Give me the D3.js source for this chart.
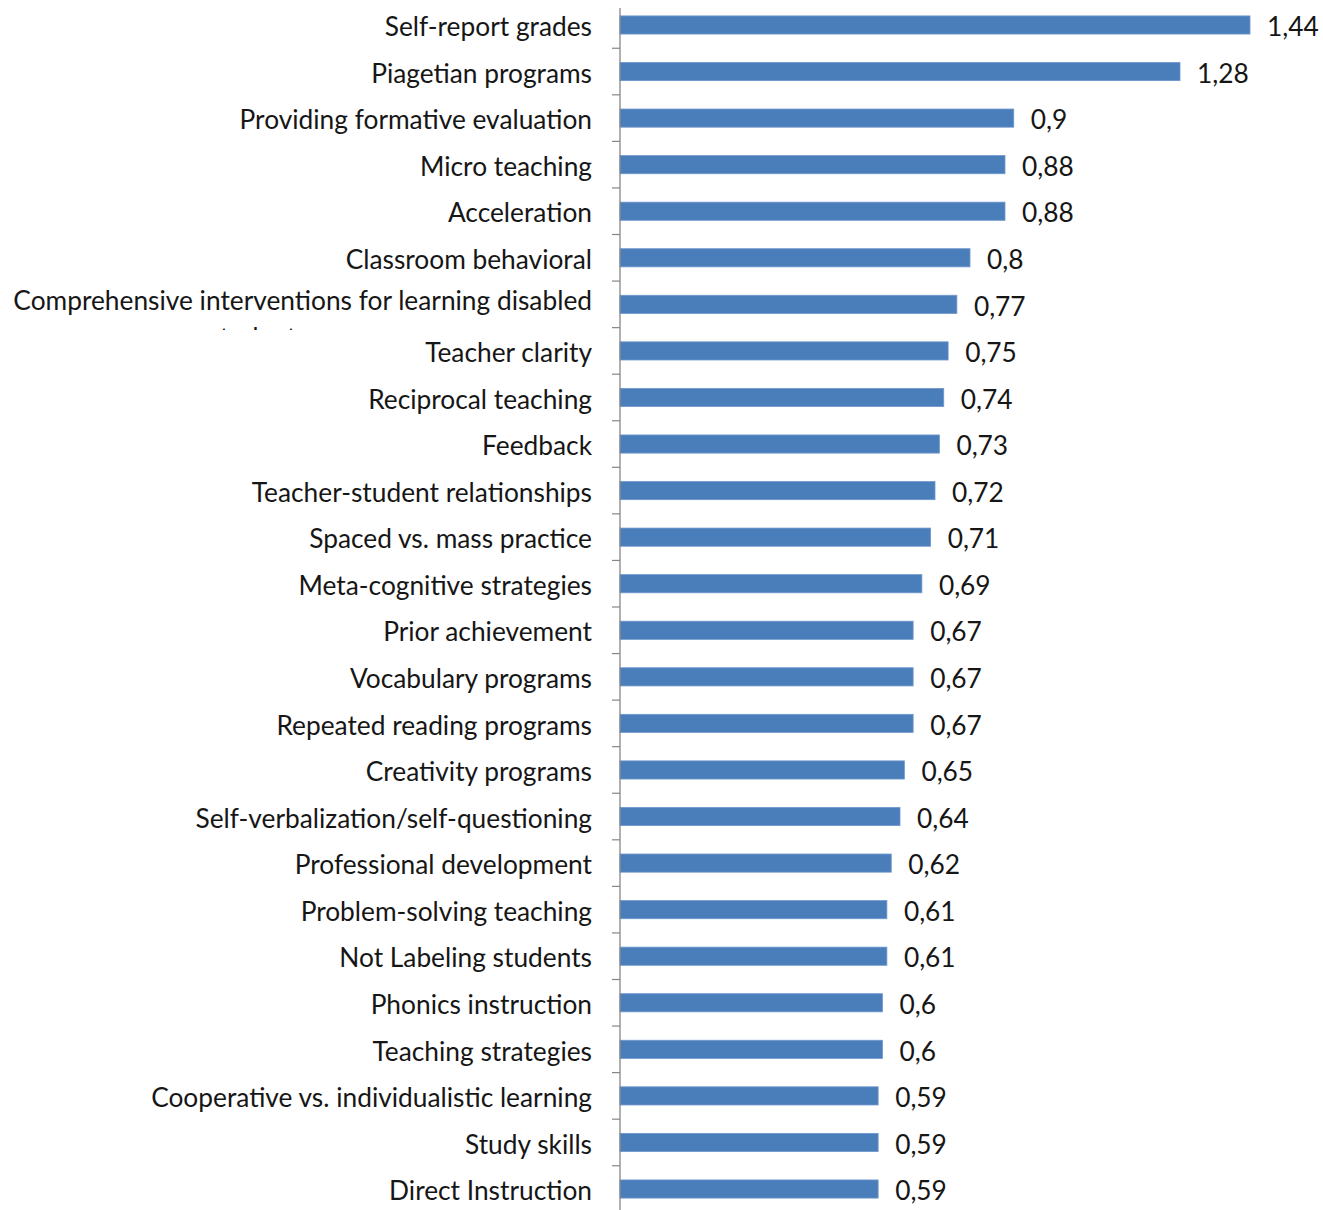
<!DOCTYPE html>
<html>
<head>
<meta charset="utf-8">
<script src="https://cdnjs.cloudflare.com/ajax/libs/d3/7.8.5/d3.min.js"></script>
<style>
  body { margin: 0; background: #fff; }
  text { font-family: Lato, "Open Sans", sans-serif; fill: #161616; }
</style>
</head>
<body>
<script>
// data
var categories = [
  "Self-report grades", "Piagetian programs", "Providing formative evaluation",
  "Micro teaching", "Acceleration", "Classroom behavioral",
  "Comprehensive interventions for learning disabled",
  "Teacher clarity", "Reciprocal teaching", "Feedback",
  "Teacher-student relationships", "Spaced vs. mass practice",
  "Meta-cognitive strategies", "Prior achievement", "Vocabulary programs",
  "Repeated reading programs", "Creativity programs",
  "Self-verbalization/self-questioning", "Professional development",
  "Problem-solving teaching", "Not Labeling students", "Phonics instruction",
  "Teaching strategies", "Cooperative vs. individualistic learning",
  "Study skills", "Direct Instruction"
];
var effectSizes = [1.44, 1.28, 0.9, 0.88, 0.88, 0.8, 0.77, 0.75, 0.74, 0.73, 0.72,
  0.71, 0.69, 0.67, 0.67, 0.67, 0.65, 0.64, 0.62, 0.61, 0.61, 0.6, 0.6, 0.59, 0.59, 0.59];
var wrappedLine = "students"; // second line of the long label, mostly cut off

var svgWidth = 1323, svgHeight = 1210;
var axisX = 620;
var fontSize = "26.3px";

var svg = d3.select("body").append("svg")
  .attr("width", svgWidth)
  .attr("height", svgHeight);

var x = d3.scaleLinear().domain([0, 1.44]).range([axisX, 1250]);
var y = d3.scaleBand().domain(categories).range([1.7, 1212.3]).paddingInner(0.61).paddingOuter(0.305);

var fmt = function(v) { return String(v).replace(".", ","); };

// bars
svg.selectAll("rect.bar")
  .data(effectSizes)
  .enter().append("rect")
  .attr("class", "bar")
  .attr("x", x(0))
  .attr("y", (d, i) => y(categories[i]))
  .attr("width", d => x(d) - x(0))
  .attr("height", y.bandwidth())
  .attr("fill", "#4a7ebb")
  .attr("stroke", "#6f97cc")
  .attr("stroke-width", 0.8);

// value labels
svg.selectAll("text.val")
  .data(effectSizes)
  .enter().append("text")
  .attr("class", "val")
  .attr("x", d => x(d) + 17)
  .attr("y", (d, i) => y(categories[i]) + y.bandwidth() / 2 + 2)
  .attr("dy", "0.35em")
  .style("font-size", fontSize)
  .text(fmt);

// axis line + ticks between categories
var axis = svg.append("g");
axis.append("line")
  .attr("x1", axisX).attr("x2", axisX)
  .attr("y1", 8).attr("y2", svgHeight)
  .attr("stroke", "#868686").attr("stroke-width", 1.3);

var gap = (y.step() - y.bandwidth()) / 2;
axis.selectAll("line.tick")
  .data(categories.slice(1))
  .enter().append("line")
  .attr("class", "tick")
  .attr("x1", axisX - 8).attr("x2", axisX)
  .attr("y1", d => y(d) - gap).attr("y2", d => y(d) - gap)
  .attr("stroke", "#868686").attr("stroke-width", 1.2);

// category labels
svg.selectAll("text.cat")
  .data(categories)
  .enter().append("text")
  .attr("class", "cat")
  .attr("text-anchor", "end")
  .attr("x", 592)
  .attr("y", (d, i) => y(d) + y.bandwidth() / 2 + 2 - (i == 6 ? 6 : 0))
  .attr("dy", "0.35em")
  .style("font-size", fontSize)
  .text(d => d);

// clipped second line of the wrapped label
svg.append("clipPath").attr("id", "wrapClip")
  .append("rect").attr("x", 0).attr("y", 322).attr("width", 600).attr("height", 8);
svg.append("text")
  .attr("clip-path", "url(#wrapClip)")
  .attr("text-anchor", "middle")
  .attr("x", 258)
  .attr("y", 347)
  .style("font-size", fontSize)
  .text(wrappedLine);
</script>
</body>
</html>
